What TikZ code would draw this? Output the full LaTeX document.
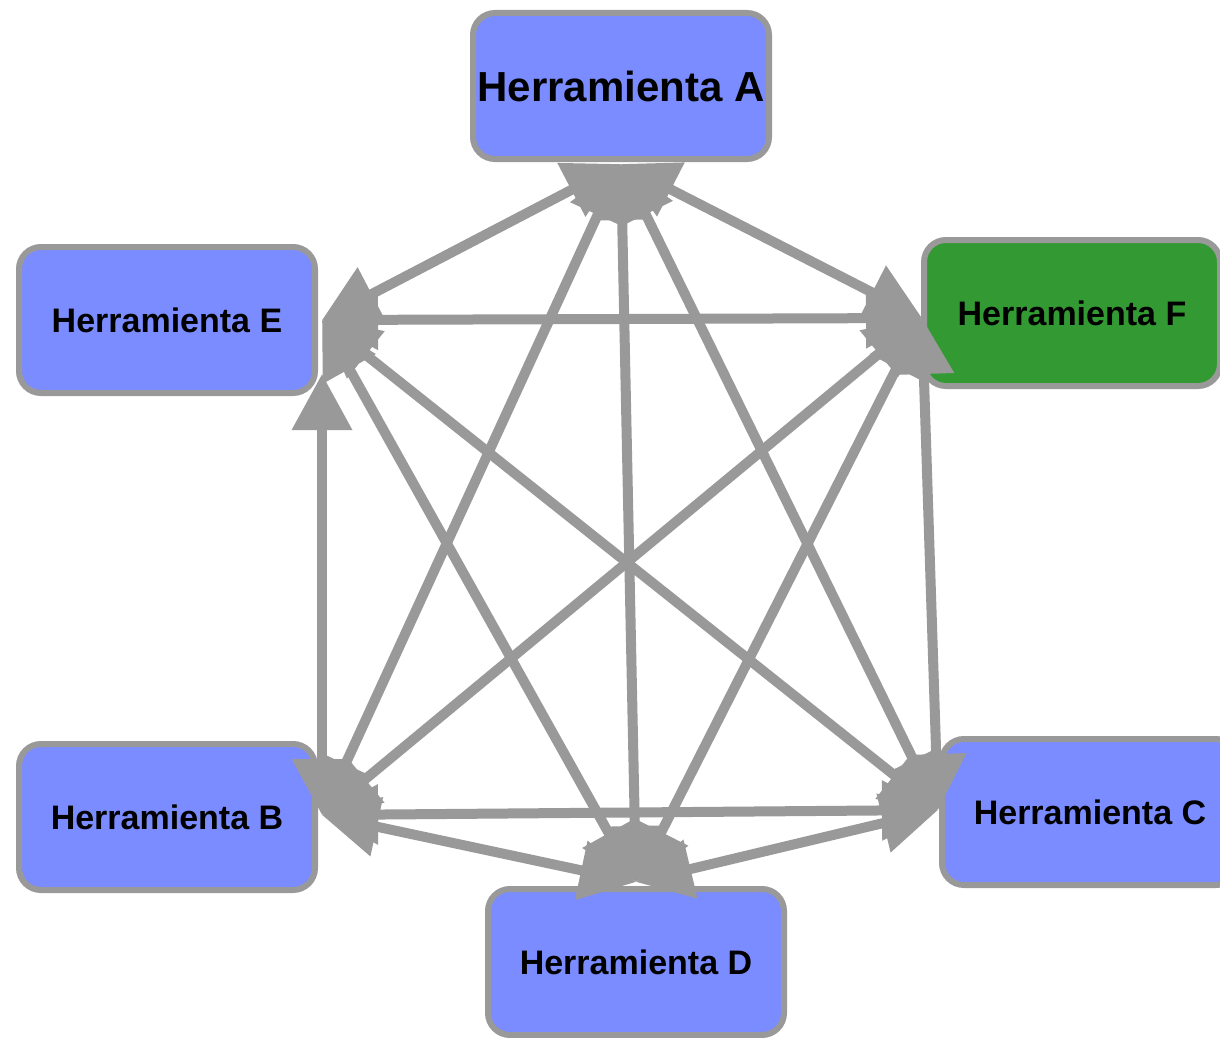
\documentclass[tikz,border=0pt]{standalone}
\usepackage{fontspec}
\setmainfont{Liberation Sans}
\usetikzlibrary{arrows.meta}
\definecolor{bordergray}{RGB}{153,153,153}
\definecolor{boxblue}{RGB}{122,140,255}
\definecolor{boxgreen}{RGB}{51,153,51}
\tikzset{
  tool/.style={draw=bordergray, line width=6pt, rounded corners=22pt, fill=boxblue,
    minimum width=296pt, minimum height=146pt, inner sep=0pt,
    font=\bfseries\fontsize{34}{40}\selectfont, text=black},
  big/.style={font=\bfseries\fontsize{42}{48}\selectfont},
  link/.style={draw=bordergray, line width=10pt,
    {Triangle[length=56pt,width=58pt]}-{Triangle[length=56pt,width=58pt]}}
}
\begin{document}
\begin{tikzpicture}[x=1pt,y=-1pt]
\useasboundingbox (0,0) rectangle (1220,1038);
\clip (0,0) rectangle (1220,1038);
\fill[white] (0,0) rectangle (1220,1038);
\node[tool,big] (A) at (621,86) {Herramienta A};
\node[tool] (E) at (167,320) {Herramienta E};
\node[tool,fill=boxgreen] (F) at (1072,313) {Herramienta F};
\node[tool] (B) at (167,817) {Herramienta B};
\node[tool] (C) at (1090,812) {Herramienta C};
\node[tool] (D) at (636,962) {Herramienta D};
\coordinate (pA) at (621,164);
\coordinate (pE) at (322,320);
\coordinate (pEb) at (322,374);
\coordinate (pF) at (922,318);
\coordinate (pB) at (322,815);
\coordinate (pC) at (938,810);
\coordinate (pD) at (636,882);
\draw[link] (pA) -- (pE);
\draw[link] (pA) -- (pF);
\draw[link] (pA) -- (pB);
\draw[link] (pA) -- (pD);
\draw[link] (pA) -- (pC);
\draw[link] (pE) -- (pF);
\draw[link] (pEb) -- (pB);
\draw[link] (pE) -- (pD);
\draw[link] (pE) -- (pC);
\draw[link] (pF) -- (pB);
\draw[link] (pF) -- (pD);
\draw[link] (pF) -- (pC);
\draw[link] (pB) -- (pD);
\draw[link] (pB) -- (pC);
\draw[link] (pD) -- (pC);
\end{tikzpicture}
\end{document}
